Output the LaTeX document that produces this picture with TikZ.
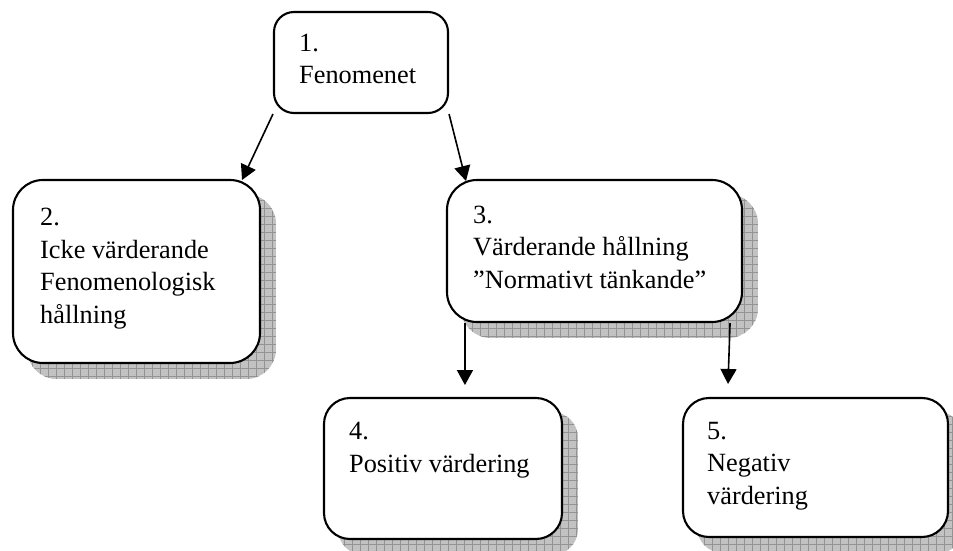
\documentclass[tikz,border=0pt]{standalone}
\usepackage{fontspec}
\setmainfont{Liberation Serif}
\usetikzlibrary{arrows.meta,backgrounds}
\tikzset{
  box/.style={draw=black, line width=2.1pt, fill=white, inner sep=0pt, rectangle},
  txt/.style={anchor=base west, align=left, inner sep=0pt, font=\fontsize{26.3}{32.5}\selectfont},
  arr/.style={line width=1.6pt, -{Triangle[length=15pt,width=16pt]}},
}
\newcommand{\shadowbox}[2]{% node, radius
  \begin{scope}
    \clip[rounded corners=#2] ([shift={(15,15)}]#1.north west) rectangle ([shift={(15,15)}]#1.south east);
    \fill[gray!48] ([shift={(15,15)}]#1.north west) rectangle ([shift={(15,15)}]#1.south east);
    \draw[gray!85, line width=0.45pt, step=8pt] ([shift={(15,15)}]#1.north west) grid ([shift={(15,15)}]#1.south east);
  \end{scope}}
\begin{document}
\begin{tikzpicture}[x=1pt,y=-1pt]
\useasboundingbox (0,0) rectangle (953,551);
\path[box, rounded corners=20pt] (274,12) rectangle (448,113) node[pos=0.5, inner sep=0pt, minimum width=174pt, minimum height=101pt] (b1) {};
\path[box, rounded corners=30pt] (13,180) rectangle (260,363) node[pos=0.5, inner sep=0pt, minimum width=247pt, minimum height=183pt] (b2) {};
\path[box, rounded corners=30pt] (447,180) rectangle (742,322) node[pos=0.5, inner sep=0pt, minimum width=295pt, minimum height=142pt] (b3) {};
\path[box, rounded corners=26pt] (324,398) rectangle (562,539) node[pos=0.5, inner sep=0pt, minimum width=238pt, minimum height=141pt] (b4) {};
\path[box, rounded corners=26pt] (683,398) rectangle (948,537) node[pos=0.5, inner sep=0pt, minimum width=265pt, minimum height=139pt] (b5) {};
\begin{pgfonlayer}{background}
  \shadowbox{b2}{30pt}
  \shadowbox{b3}{30pt}
  \shadowbox{b4}{26pt}
  \shadowbox{b5}{26pt}
\end{pgfonlayer}
\node[txt] (t1) at (299,84) {1.\\Fenomenet};
\node[txt] (t2) at (40,323) {2.\\Icke värderande\\Fenomenologisk\\hållning};
\node[txt] (t3) at (473,288) {3.\\Värderande hållning\\”Normativt tänkande”};
\node[txt] (t4) at (349,472) {4.\\Positiv värdering};
\node[txt] (t5) at (707,504) {5.\\Negativ\\värdering};
\draw[arr] (b1.south west) -- (242,180);
\draw[arr] (b1.south east) -- (466,181);
\draw[arr] ([xshift=19pt]b3.south west) -- ++(0,62);
\draw[arr] ([xshift=-13pt]b3.south east) -- (728,384);
\end{tikzpicture}
\end{document}
